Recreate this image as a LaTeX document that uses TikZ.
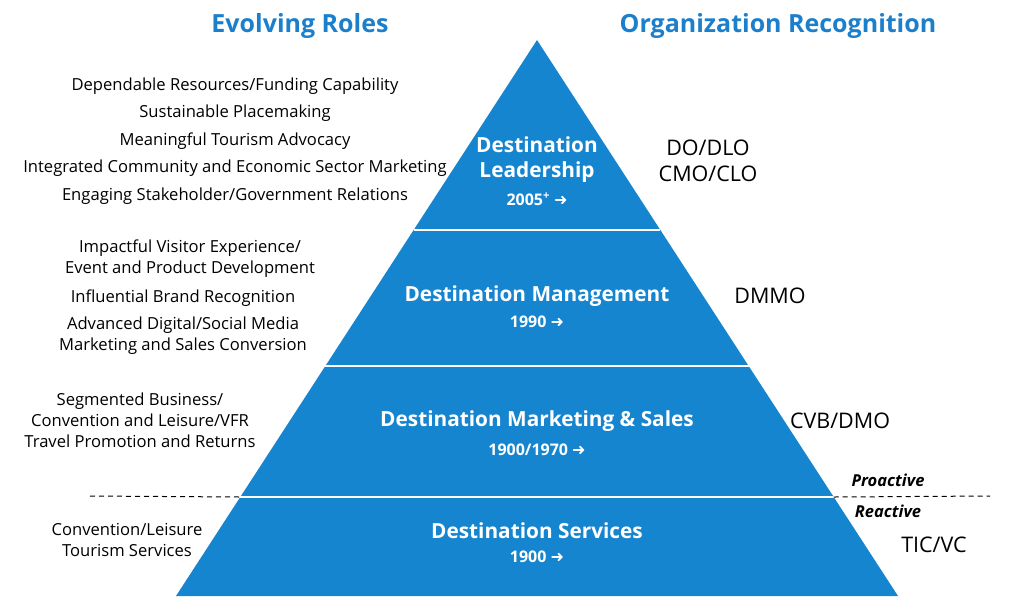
\documentclass[tikz,border=0pt]{standalone}
\usepackage{fontspec}
\setmainfont{Open Sans}
\newfontfamily\djfont{DejaVu Sans}
\definecolor{pblue}{HTML}{1685D0}
\definecolor{tblue}{HTML}{1C7FCC}
\begin{document}
\begin{tikzpicture}[x=1pt,y=-1pt,
  lt/.style={font=\fontsize{16.6}{21}\selectfont,inner sep=0pt,align=center},
  ins/.style={font=\bfseries\fontsize{20.8}{25}\selectfont,text=white,inner sep=0pt,align=center},
  yr/.style={font=\bfseries\fontsize{16}{18}\selectfont,text=white,inner sep=0pt},
  rt/.style={font=\fontsize{21.5}{26}\selectfont,inner sep=0pt,align=center},
  hd/.style={font=\bfseries\fontsize{25}{28}\selectfont,text=tblue,inner sep=0pt},
  pr/.style={font=\bfseries\itshape\fontsize{16.5}{18}\selectfont,inner sep=0pt}]
\useasboundingbox (0,0) rectangle (1024,598);
\coordinate (apex) at (537,40);
\coordinate (bl) at (176,596);
\coordinate (br) at (898,596);
\fill[pblue] (apex) -- (bl) -- (br) -- cycle;
\foreach \y/\n in {230/a,366/b,497/c}{
  \pgfmathsetmacro\dx{0.6493*(\y-40)}
  \coordinate (l\n) at ({537-\dx},\y);
  \coordinate (r\n) at ({537+\dx},\y);
  \draw[white,line width=1.5pt] (l\n) -- (r\n);
}
\coordinate (d1) at (90,496); \coordinate (d2) at (990,496);
\draw[line width=1pt,dash pattern=on 5pt off 4pt] (d1) -- (lc);
\draw[line width=1pt,dash pattern=on 5pt off 4pt] (rc) -- (d2);
\node[hd] (h1) at (300,26) {Evolving Roles};
\node[hd] (h2) at (778,26) {Organization Recognition};
\node[lt] (t1) at (235,86) {Dependable Resources/Funding Capability};
\node[lt] (t2) at (235,113) {Sustainable Placemaking};
\node[lt] (t3) at (235,141) {Meaningful Tourism Advocacy};
\node[lt] (t4) at (235,168) {Integrated Community and Economic Sector Marketing};
\node[lt] (t5) at (235,196) {Engaging Stakeholder/Government Relations};
\node[lt] (t6) at (190,259) {Impactful Visitor Experience/\\Event and Product Development};
\node[lt] (t7) at (183,298) {Influential Brand Recognition};
\node[lt] (t8) at (183,336) {Advanced Digital/Social Media\\Marketing and Sales Conversion};
\node[lt] (t9) at (140,420) {Segmented Business/\\Convention and Leisure/VFR\\Travel Promotion and Returns};
\node[lt] (t10) at (127,540) {Convention/Leisure\\Tourism Services};
\node[ins] (i1) at (537,160) {Destination\\Leadership};
\node[yr] (y1) at (537,199) {2005\textsuperscript{+} {\djfont ➜}};
\node[ins] (i2) at (537,296) {Destination Management};
\node[yr] (y2) at (537,322) {1990 {\djfont ➜}};
\node[ins] (i3) at (537,421) {Destination Marketing \& Sales};
\node[yr] (y3) at (537,450) {1900/1970 {\djfont ➜}};
\node[ins] (i4) at (537,531) {Destination Services};
\node[yr] (y4) at (537,557) {1900 {\djfont ➜}};
\node[rt] (r1) at (708,161) {DO/DLO\\CMO/CLO};
\node[rt] (r2) at (770,296) {DMMO};
\node[rt] (r3) at (840,421) {CVB/DMO};
\node[rt] (r4) at (934,545) {TIC/VC};
\node[pr] (p1) at (888,480) {Proactive};
\node[pr] (p2) at (888,511) {Reactive};
\end{tikzpicture}
\end{document}
